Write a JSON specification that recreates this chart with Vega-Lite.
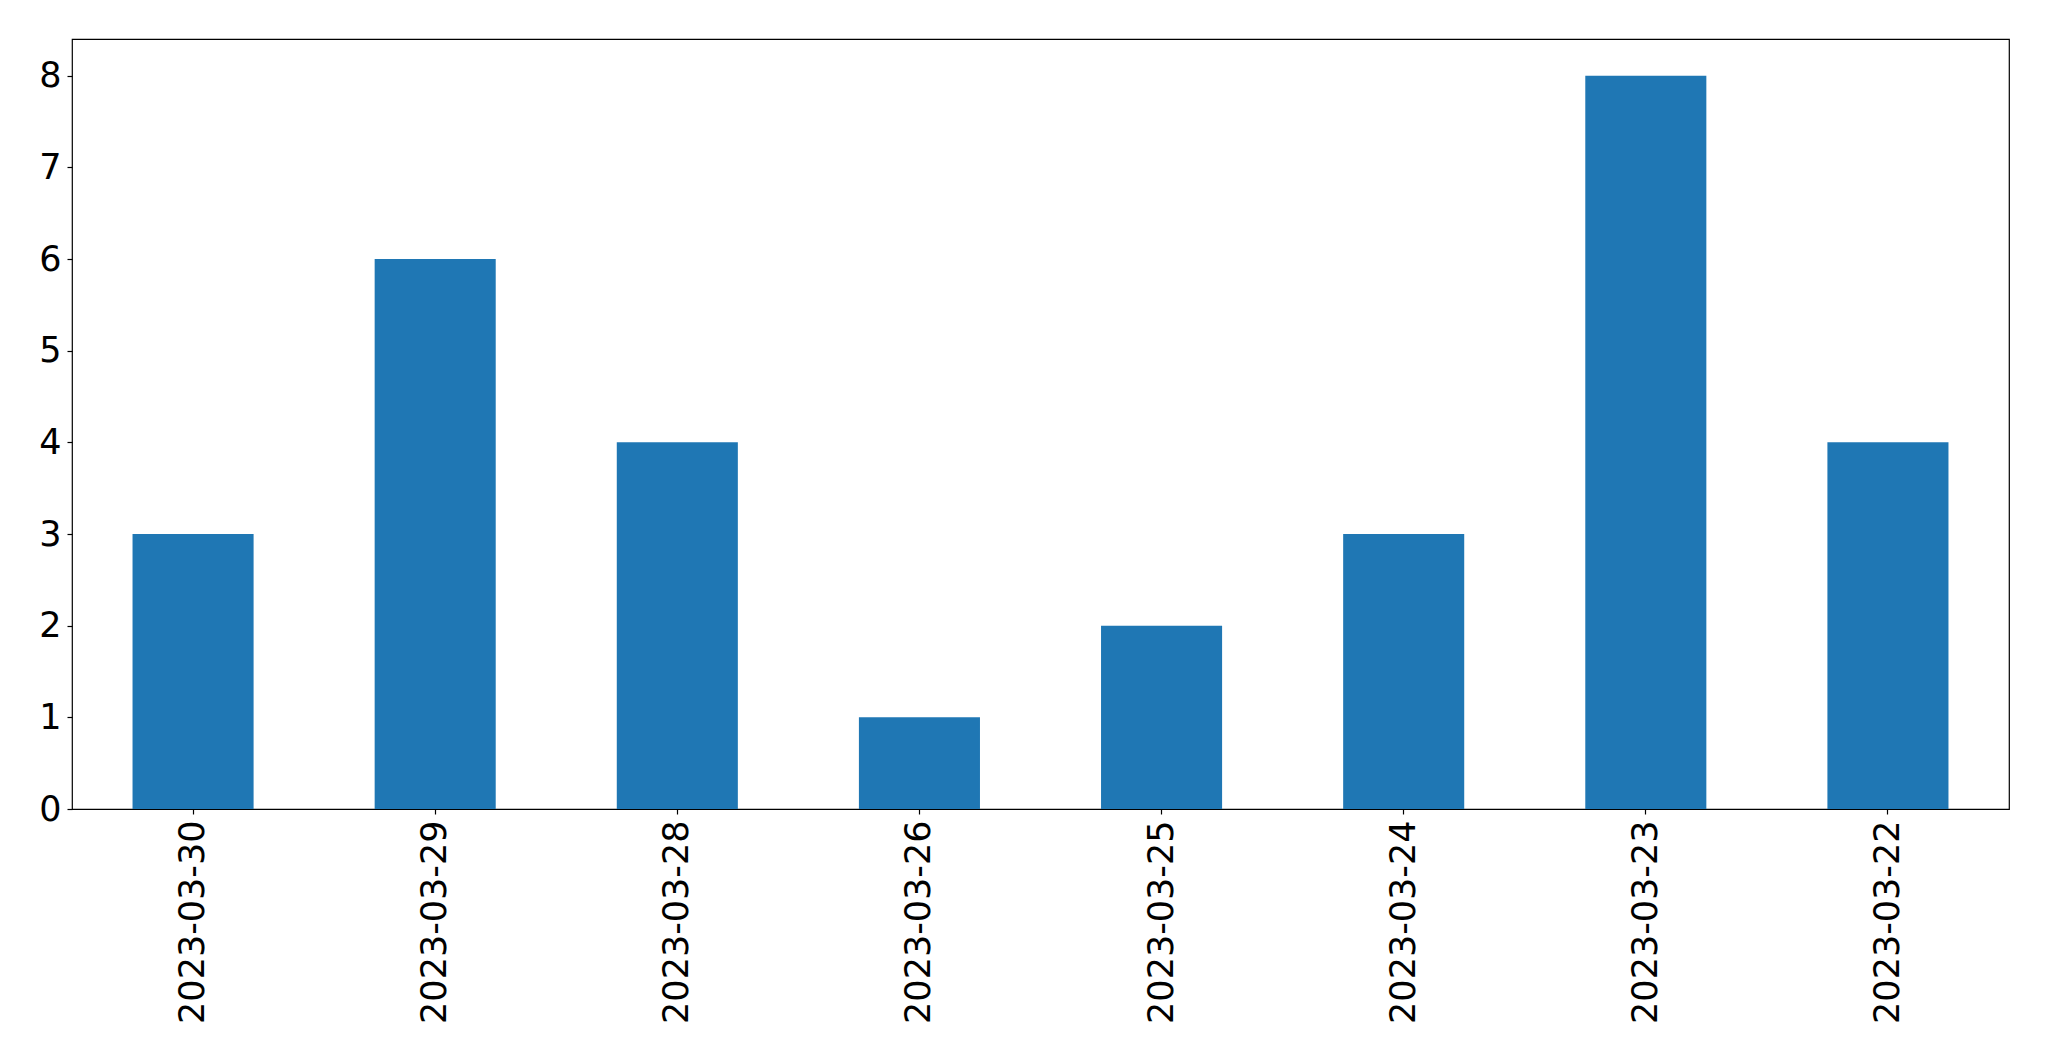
{
  "$schema": "https://vega.github.io/schema/vega-lite/v6.json",
  "width": 1937,
  "height": 770,
  "autosize": {"type": "none"},
  "padding": {"left": 72, "top": 39, "right": 40, "bottom": 252},
  "background": "white",
  "config": {
    "view": {"stroke": "black", "strokeWidth": 1.2},
    "axis": {"labelFont": "DejaVu Sans", "labelFontSize": 35, "labelColor": "black", "tickColor": "black", "domain": false, "grid": false, "title": null, "tickSize": 5, "tickWidth": 1.2, "labelLimit": 0}
  },
  "data": {
    "values": [
      {"date": "2023-03-30", "count": 3},
      {"date": "2023-03-29", "count": 6},
      {"date": "2023-03-28", "count": 4},
      {"date": "2023-03-26", "count": 1},
      {"date": "2023-03-25", "count": 2},
      {"date": "2023-03-24", "count": 3},
      {"date": "2023-03-23", "count": 8},
      {"date": "2023-03-22", "count": 4}
    ]
  },
  "mark": {"type": "bar", "color": "#1f77b4"},
  "encoding": {
    "x": {
      "field": "date", "type": "nominal", "sort": null,
      "scale": {"paddingInner": 0.5, "paddingOuter": 0.25},
      "axis": {"labelAngle": -90, "labelPadding": 6, "labelAlign": "right", "labelBaseline": "middle"}
    },
    "y": {
      "field": "count", "type": "quantitative",
      "scale": {"domain": [0, 8.4], "nice": false, "zero": true},
      "axis": {"values": [0, 1, 2, 3, 4, 5, 6, 7, 8], "labelPadding": 6, "labelBaseline": "middle"}
    }
  }
}
